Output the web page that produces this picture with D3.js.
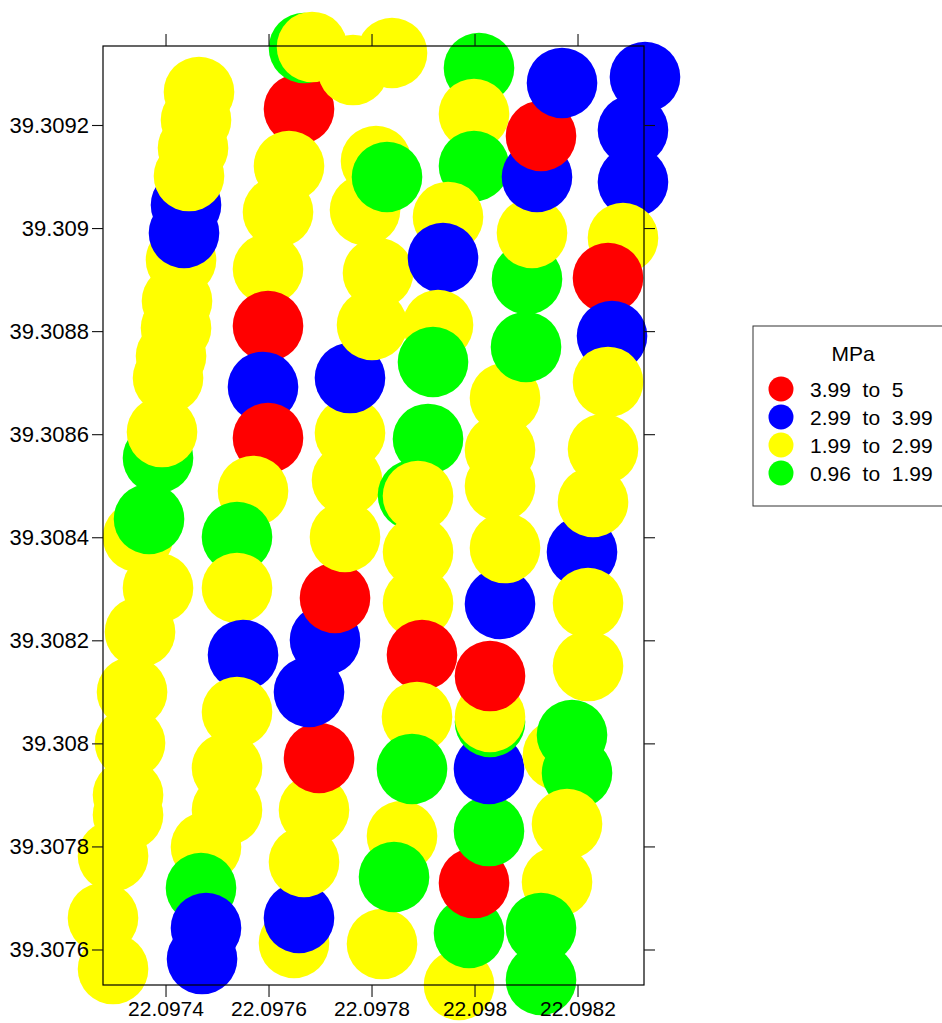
<!DOCTYPE html>
<html>
<head>
<meta charset="utf-8">
<script src="https://cdn.jsdelivr.net/npm/d3@7"></script>
<style>
  body { margin: 0; background: #fff; }
  svg { display: block; }
  text { font-family: "Liberation Sans", Arial, sans-serif; }
</style>
</head>
<body>
<div id="chart"></div>
<script>
// pressure classes (MPa), legend order
const binLabels = ["3.99  to  5", "2.99  to  3.99", "1.99  to  2.99", "0.96  to  1.99"];
const binColors = ["#ff0000", "#0000ff", "#ffff00", "#00ff00"];

// axis ticks
const xTicks = [22.0974, 22.0976, 22.0978, 22.098, 22.0982];
const xTickLabels = ["22.0974", "22.0976", "22.0978", "22.098", "22.0982"];
const yTicks = [39.3076, 39.3078, 39.308, 39.3082, 39.3084, 39.3086, 39.3088, 39.309, 39.3092];
const yTickLabels = ["39.3076", "39.3078", "39.308", "39.3082", "39.3084", "39.3086", "39.3088", "39.309", "39.3092"];

// samples along each pass: [longitude, latitude, class], in recording order
const track1 = [
  [22.0972981, 39.3075621, 2], [22.0972786, 39.3076611, 2], [22.0972981, 39.3077814, 2],
  [22.0973272, 39.3078610, 2], [22.0973272, 39.3078998, 2], [22.0973311, 39.3080007, 2],
  [22.0973350, 39.3080997, 2], [22.0973505, 39.3082161, 2], [22.0973854, 39.3083015, 2],
  [22.0973466, 39.3084005, 2], [22.0973680, 39.3084354, 3], [22.0973854, 39.3085538, 3],
  [22.0973932, 39.3086042, 2], [22.0974049, 39.3087090, 2], [22.0974107, 39.3087517, 2],
  [22.0974204, 39.3088061, 2], [22.0974223, 39.3088585, 2], [22.0974301, 39.3089380, 2],
  [22.0974359, 39.3089904, 1], [22.0974398, 39.3090448, 1], [22.0974456, 39.3091010, 2],
  [22.0974534, 39.3091554, 2], [22.0974592, 39.3092097, 2], [22.0974650, 39.3092640, 2]
];
const track2 = [
  [22.0976592, 39.3092310, 0], [22.0976398, 39.3091204, 2], [22.0976184, 39.3090312, 2],
  [22.0975990, 39.3089206, 2], [22.0975990, 39.3088099, 0], [22.0975893, 39.3086916, 1],
  [22.0975990, 39.3085926, 0], [22.0975699, 39.3084897, 2], [22.0975388, 39.3084005, 3],
  [22.0975388, 39.3083015, 2], [22.0975505, 39.3081715, 1], [22.0975388, 39.3080609, 2],
  [22.0975194, 39.3079522, 2], [22.0975194, 39.3078707, 2], [22.0974786, 39.3077989, 2],
  [22.0974689, 39.3077193, 3], [22.0974709, 39.3075815, 1], [22.0974786, 39.3076417, 1]
];
const track3 = [
  [22.0976495, 39.3076126, 2], [22.0976592, 39.3076611, 1], [22.0976689, 39.3077698, 2],
  [22.0976883, 39.3078707, 2], [22.0976981, 39.3079716, 0], [22.0976786, 39.3080997, 1],
  [22.0977097, 39.3082006, 1], [22.0977291, 39.3082821, 0], [22.0977485, 39.3084005, 2],
  [22.0977524, 39.3085111, 2], [22.0977582, 39.3086023, 2], [22.0977582, 39.3087090, 1],
  [22.0978010, 39.3088119, 2], [22.0978126, 39.3089128, 2], [22.0977874, 39.3090350, 2],
  [22.0978087, 39.3091301, 2], [22.0978301, 39.3090991, 3]
];
const headland = [
  [22.0977641, 39.3093067, 2], [22.0978398, 39.3093397, 2],
  [22.0976689, 39.3093494, 3], [22.0976845, 39.3093514, 2]
];
const track4 = [
  [22.0980087, 39.3093106, 3], [22.0979990, 39.3092213, 2], [22.0979990, 39.3091204, 3],
  [22.0979485, 39.3090215, 2], [22.0979388, 39.3089419, 1], [22.0979291, 39.3088119, 2],
  [22.0979194, 39.3087401, 3], [22.0979097, 39.3085907, 3], [22.0978806, 39.3084820, 3],
  [22.0978903, 39.3084800, 2], [22.0978903, 39.3083714, 2], [22.0978903, 39.3082724, 2],
  [22.0978980, 39.3081715, 0], [22.0978883, 39.3080512, 2], [22.0978592, 39.3078202, 2],
  [22.0978786, 39.3079503, 3], [22.0978204, 39.3076106, 2], [22.0978437, 39.3077407, 3]
];
const track5 = [
  [22.0979699, 39.3075311, 2], [22.0979893, 39.3076320, 3], [22.0979990, 39.3077290, 0],
  [22.0980281, 39.3078299, 3], [22.0980281, 39.3079503, 1], [22.0980301, 39.3080415, 3],
  [22.0980301, 39.3080512, 2], [22.0980301, 39.3081307, 0], [22.0980495, 39.3082705, 1],
  [22.0980592, 39.3083791, 2], [22.0980495, 39.3084994, 2], [22.0980495, 39.3085693, 2],
  [22.0980592, 39.3086702, 2], [22.0981000, 39.3087692, 3], [22.0981019, 39.3089011, 3],
  [22.0981116, 39.3089904, 2], [22.0981213, 39.3090991, 1], [22.0981291, 39.3091787, 0],
  [22.0981699, 39.3092815, 1]
];
const track6 = [
  [22.0983310, 39.3092931, 1], [22.0983077, 39.3091903, 1], [22.0983077, 39.3090894, 1],
  [22.0982883, 39.3089807, 2], [22.0982592, 39.3089031, 0], [22.0982670, 39.3087905, 1],
  [22.0982592, 39.3087013, 2], [22.0982495, 39.3085712, 2], [22.0982087, 39.3083714, 1],
  [22.0982301, 39.3084684, 2], [22.0982204, 39.3082724, 2], [22.0982204, 39.3081501, 2],
  [22.0981621, 39.3079774, 2], [22.0981893, 39.3080162, 3], [22.0981990, 39.3079425, 3],
  [22.0981796, 39.3078435, 2], [22.0981602, 39.3077310, 2], [22.0981291, 39.3076417, 3],
  [22.0981291, 39.3075408, 3]
];

const width = 942, height = 1023;
const marginLeft = 103, marginRight = 298, marginTop = 46, marginBottom = 38;
const pointRadius = 35.3;

const svg = d3.select("#chart").append("svg")
  .attr("width", width)
  .attr("height", height);

const x = d3.scaleLinear()
  .domain([22.0972786, 22.0983291])
  .range([marginLeft, width - marginRight]);
const y = d3.scaleLinear()
  .domain([39.3075311, 39.3093533])
  .range([height - marginBottom, marginTop]);

const points = [].concat(track1, track2, track3, headland, track4, track5, track6);

svg.append("g")
  .selectAll("circle")
  .data(points)
  .join("circle")
    .attr("cx", d => x(d[0]))
    .attr("cy", d => y(d[1]))
    .attr("r", pointRadius)
    .attr("fill", d => binColors[d[2]]);

// frame
svg.append("rect")
  .attr("x", x.range()[0])
  .attr("y", y.range()[1])
  .attr("width", x.range()[1] - x.range()[0])
  .attr("height", y.range()[0] - y.range()[1])
  .attr("fill", "none")
  .attr("stroke", "#000")
  .attr("stroke-width", 1.2);

function styleAxis(g) {
  g.select(".domain").remove();
  g.selectAll(".tick line").attr("stroke", "#111").attr("stroke-width", 1.1);
  g.selectAll(".tick text").attr("fill", "#000");
  g.attr("font-size", 22).attr("font-family", "'Liberation Sans', Arial, sans-serif");
}

svg.append("g")
  .attr("transform", "translate(0," + y.range()[0] + ")")
  .call(d3.axisBottom(x).tickValues(xTicks)
    .tickFormat((d, i) => xTickLabels[i]).tickSize(12).tickSizeOuter(0).tickPadding(4))
  .call(styleAxis)
  .attr("font-size", 21);

svg.append("g")
  .attr("transform", "translate(0," + y.range()[1] + ")")
  .call(d3.axisTop(x).tickValues(xTicks).tickFormat("").tickSize(12).tickSizeOuter(0))
  .call(styleAxis);

svg.append("g")
  .attr("transform", "translate(" + x.range()[0] + ",0)")
  .call(d3.axisLeft(y).tickValues(yTicks)
    .tickFormat((d, i) => yTickLabels[i]).tickSize(11).tickSizeOuter(0).tickPadding(3))
  .call(styleAxis);

svg.append("g")
  .attr("transform", "translate(" + x.range()[1] + ",0)")
  .call(d3.axisRight(y).tickValues(yTicks).tickFormat("").tickSize(11).tickSizeOuter(0))
  .call(styleAxis);

// legend
const legend = svg.append("g").attr("transform", "translate(753,326)");
legend.append("rect")
  .attr("width", 260)
  .attr("height", 180)
  .attr("fill", "#fff")
  .attr("stroke", "#333")
  .attr("stroke-width", 1);
legend.append("text")
  .attr("x", 100)
  .attr("y", 35)
  .attr("text-anchor", "middle")
  .attr("font-size", 21)
  .text("MPa");
const rows = legend.selectAll(".row")
  .data(binLabels)
  .join("g")
    .attr("class", "row")
    .attr("transform", (d, i) => "translate(0," + (63 + i * 28) + ")");
rows.append("circle")
  .attr("cx", 28)
  .attr("r", 12.5)
  .attr("fill", (d, i) => binColors[i]);
rows.append("text")
  .attr("x", 57)
  .attr("y", 8)
  .attr("font-size", 21)
  .style("white-space", "pre")
  .text(d => d);
</script>
</body>
</html>
